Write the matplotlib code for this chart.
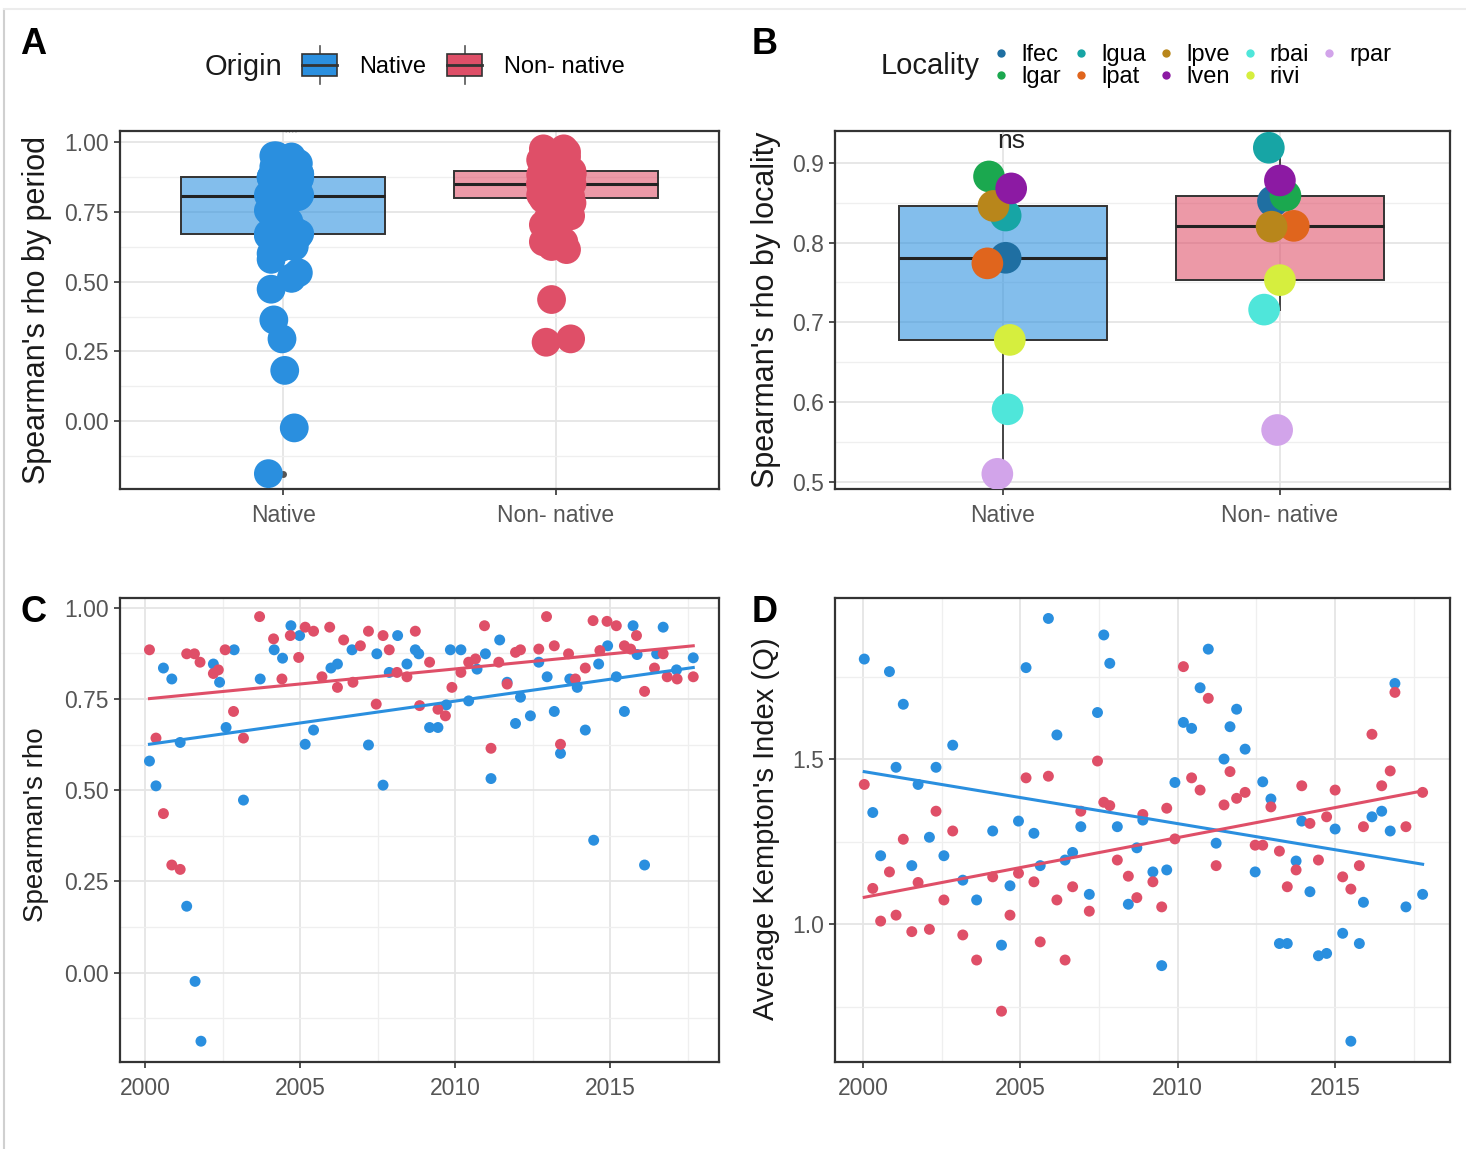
import numpy as np
import matplotlib
matplotlib.use('Agg')
import matplotlib.pyplot as plt
import matplotlib.ticker as ticker
from matplotlib.lines import Line2D
from matplotlib.patches import Rectangle, Patch
from matplotlib.legend_handler import HandlerBase
from matplotlib.colors import to_rgba

plt.rcParams['font.family'] = ['Liberation Sans', 'DejaVu Sans']

# ---- data: Spearman's rho by period (panel C, also jittered in panel A)
native_year = [2000.14, 2000.35, 2000.59, 2000.86, 2001.13, 2001.34, 2001.61, 2001.80,
               2002.20, 2002.40, 2002.61, 2002.87, 2003.17, 2003.71, 2004.16, 2004.43,
               2004.70, 2004.98, 2005.16, 2005.43, 2005.99, 2006.20, 2006.67, 2007.20,
               2007.47, 2007.67, 2007.87, 2008.14, 2008.44, 2008.71, 2008.82, 2009.17,
               2009.44, 2009.71, 2009.84, 2010.18, 2010.43, 2010.70, 2010.97, 2011.15,
               2011.43, 2011.67, 2011.94, 2012.10, 2012.42, 2012.69, 2012.96, 2013.19,
               2013.39, 2013.69, 2013.93, 2014.19, 2014.46, 2014.62, 2014.91, 2015.19,
               2015.45, 2015.73, 2015.86, 2016.10, 2016.49, 2016.70, 2017.13, 2017.67]
native_rho = [0.580, 0.512, 0.835, 0.805, 0.631, 0.182, -0.024, -0.188,
              0.846, 0.796, 0.672, 0.885, 0.473, 0.805, 0.885, 0.862,
              0.951, 0.924, 0.626, 0.665, 0.835, 0.846, 0.885, 0.624,
              0.874, 0.514, 0.823, 0.924, 0.846, 0.885, 0.874, 0.672,
              0.672, 0.734, 0.885, 0.885, 0.745, 0.832, 0.874, 0.532,
              0.912, 0.796, 0.683, 0.755, 0.704, 0.851, 0.811, 0.716,
              0.601, 0.805, 0.782, 0.665, 0.363, 0.846, 0.896, 0.811,
              0.716, 0.951, 0.872, 0.295, 0.874, 0.947, 0.830, 0.863]

nonnative_year = [2000.14, 2000.35, 2000.59, 2000.86, 2001.13, 2001.34, 2001.59, 2001.77,
                  2002.20, 2002.36, 2002.58, 2002.85, 2003.17, 2003.69, 2004.14, 2004.41,
                  2004.68, 2004.95, 2005.16, 2005.43, 2005.70, 2005.95, 2006.20, 2006.40,
                  2006.70, 2006.94, 2007.20, 2007.45, 2007.67, 2007.87, 2008.12, 2008.44,
                  2008.71, 2008.85, 2009.17, 2009.44, 2009.68, 2009.89, 2010.18, 2010.43,
                  2010.65, 2010.94, 2011.15, 2011.40, 2011.67, 2011.94, 2012.10, 2012.69,
                  2012.94, 2013.19, 2013.39, 2013.65, 2013.87, 2014.19, 2014.44, 2014.66,
                  2014.89, 2015.19, 2015.45, 2015.65, 2015.84, 2016.10, 2016.42, 2016.70,
                  2016.83, 2017.15, 2017.67]
nonnative_rho = [0.885, 0.643, 0.436, 0.295, 0.283, 0.874, 0.874, 0.851,
                 0.820, 0.830, 0.885, 0.716, 0.643, 0.976, 0.915, 0.805,
                 0.924, 0.864, 0.947, 0.936, 0.811, 0.947, 0.782, 0.912,
                 0.796, 0.896, 0.936, 0.736, 0.924, 0.885, 0.823, 0.811,
                 0.936, 0.732, 0.851, 0.722, 0.704, 0.782, 0.823, 0.851,
                 0.860, 0.951, 0.615, 0.851, 0.791, 0.878, 0.885, 0.887,
                 0.976, 0.896, 0.626, 0.874, 0.805, 0.835, 0.965, 0.883,
                 0.963, 0.951, 0.896, 0.887, 0.924, 0.771, 0.835, 0.874,
                 0.811, 0.805, 0.811]

# ---- data: Average Kempton's index (panel D)
kq_year = [2000.04, 2000.31, 2000.56, 2000.84, 2001.05, 2001.28, 2001.55, 2001.75,
           2002.11, 2002.32, 2002.57, 2002.85, 2003.17, 2003.61, 2004.12, 2004.40,
           2004.67, 2004.94, 2005.18, 2005.43, 2005.63, 2005.89, 2006.16, 2006.42,
           2006.66, 2006.92, 2007.19, 2007.45, 2007.65, 2007.84, 2008.08, 2008.43,
           2008.70, 2008.89, 2009.21, 2009.49, 2009.65, 2009.91, 2010.18, 2010.44,
           2010.71, 2010.97, 2011.22, 2011.47, 2011.66, 2011.87, 2012.14, 2012.46,
           2012.70, 2012.96, 2013.23, 2013.48, 2013.76, 2013.94, 2014.20, 2014.47,
           2014.73, 2015.00, 2015.24, 2015.50, 2015.77, 2015.90, 2016.17, 2016.48,
           2016.75, 2016.90, 2017.25, 2017.78]
kq_native = [1.803, 1.338, 1.207, 1.765, 1.475, 1.666, 1.177, 1.423,
             1.263, 1.475, 1.207, 1.542, 1.133, 1.073, 1.282, 0.936,
             1.116, 1.312, 1.777, 1.275, 1.177, 1.926, 1.573, 1.194,
             1.217, 1.295, 1.090, 1.641, 1.876, 1.790, 1.295, 1.060,
             1.231, 1.315, 1.158, 0.874, 1.164, 1.429, 1.611, 1.593,
             1.716, 1.833, 1.245, 1.500, 1.598, 1.651, 1.530, 1.158,
             1.431, 1.379, 0.941, 0.941, 1.191, 1.312, 1.098, 0.904,
             0.911, 1.288, 0.972, 0.645, 0.941, 1.066, 1.325, 1.342,
             1.282, 1.729, 1.052, 1.090]
kq_nonnative = [1.423, 1.108, 1.009, 1.158, 1.027, 1.257, 0.977, 1.126,
                0.984, 1.342, 1.073, 1.282, 0.967, 0.891, 1.143, 0.736,
                1.027, 1.154, 1.443, 1.128, 0.946, 1.448, 1.073, 0.891,
                1.113, 1.342, 1.039, 1.494, 1.369, 1.359, 1.194, 1.145,
                1.080, 1.332, 1.128, 1.052, 1.351, 1.258, 1.780, 1.443,
                1.406, 1.684, 1.177, 1.361, 1.462, 1.381, 1.399, 1.239,
                1.239, 1.355, 1.221, 1.113, 1.164, 1.419, 1.305, 1.194,
                1.325, 1.406, 1.143, 1.106, 1.177, 1.295, 1.575, 1.419,
                1.464, 1.702, 1.295, 1.399]

# ---- data: Spearman's rho by locality (panel B)
localities = ['lfec', 'lgar', 'lgua', 'lpat', 'lpve', 'lven', 'rbai', 'rivi', 'rpar']
loc_native = [0.781, 0.883, 0.834, 0.774, 0.846, 0.868, 0.591, 0.678, 0.510]
loc_nonnative = [0.852, 0.859, 0.919, 0.821, 0.820, 0.878, 0.716, 0.753, 0.565]
loc_colors = ['#1f6fa2', '#1ba84f', '#17a5a5', '#e0651d', '#b8861b',
              '#8c1aa3', '#4fe6da', '#d6ee3e', '#d2a4ea']

origins = ['Native', 'Non- native']
origin_colors = ['#2a8fdf', '#df4f68']

# jitter offsets (horizontal only)
jit_pattern = [-0.045, 0.03, -0.015, 0.055, -0.035, 0.005, 0.04, -0.055, 0.02, -0.025, 0.06, -0.005]
loc_jit_native = [0.01, -0.05, 0.01, -0.056, -0.034, 0.03, 0.017, 0.025, -0.02]
loc_jit_non = [-0.025, 0.02, -0.04, 0.05, -0.03, 0.0, -0.057, 0.0, -0.01]

W, H = 1466, 1149
fig = plt.figure(figsize=(W / 100, H / 100), dpi=100)


def box(x0, y0, x1, y1):
    return [x0 / W, 1 - y1 / H, (x1 - x0) / W, (y1 - y0) / H]


def style(ax, ymaj, ymin, xmaj=None, xmin=None):
    for s in ax.spines.values():
        s.set_color('#333333')
        s.set_linewidth(1.6)
    ax.yaxis.set_major_locator(ticker.MultipleLocator(ymaj))
    ax.yaxis.set_minor_locator(ticker.MultipleLocator(ymin))
    if xmaj is not None:
        ax.xaxis.set_major_locator(ticker.MultipleLocator(xmaj))
        ax.xaxis.set_minor_locator(ticker.MultipleLocator(xmin))
    ax.grid(which='major', color='#e5e5e5', lw=1.3)
    ax.grid(which='minor', color='#efefef', lw=0.9)
    ax.set_axisbelow(True)
    ax.tick_params(which='major', length=4, width=1.2, color='#333333',
                   labelcolor='#555555', labelsize=16.5, pad=4)
    ax.tick_params(which='minor', length=0)
    ax.tick_params(axis='x', pad=7)


def boxes(ax, data):
    bp = ax.boxplot(data, positions=[1, 2], widths=0.75, patch_artist=True,
                    showcaps=False, zorder=2,
                    flierprops=dict(marker='o', markerfacecolor='#555555',
                                    markeredgecolor='none', markersize=5),
                    medianprops=dict(color='#222222', lw=2.2),
                    boxprops=dict(edgecolor='#333333', lw=1.4),
                    whiskerprops=dict(color='#444444', lw=1.4))
    for patch, c in zip(bp['boxes'], origin_colors):
        patch.set_facecolor(to_rgba(c, 0.58))


# ---- panel A
ax_a = fig.add_axes(box(120, 131, 719, 489))
style(ax_a, 0.25, 0.125)
boxes(ax_a, [native_rho, nonnative_rho])
ax_a.text(1.03, 1.0, '**', ha='center', va='bottom', fontsize=14, color='#333333',
          zorder=2, clip_on=True)
for i, (vals, c) in enumerate(zip([native_rho, nonnative_rho], origin_colors)):
    off = np.resize(jit_pattern, len(vals))
    ax_a.scatter(i + 1 + off, vals, s=430, color=c, edgecolors='none', zorder=3)
ax_a.set_xlim(0.4, 2.6)
ax_a.set_ylim(-0.243, 1.04)
ax_a.set_xticks([1, 2])
ax_a.set_xticklabels(origins)
ax_a.xaxis.set_minor_locator(ticker.NullLocator())
ax_a.yaxis.set_major_formatter(ticker.FormatStrFormatter('%.2f'))

# ---- panel B
ax_b = fig.add_axes(box(835, 131, 1450, 489))
style(ax_b, 0.1, 0.05)
boxes(ax_b, [loc_native, loc_nonnative])
for i in range(len(localities)):
    ax_b.scatter(1 + loc_jit_native[i], loc_native[i], s=520, color=loc_colors[i],
                 edgecolors='none', zorder=3)
    ax_b.scatter(2 + loc_jit_non[i], loc_nonnative[i], s=520, color=loc_colors[i],
                 edgecolors='none', zorder=3)
ax_b.text(1.03, 0.927, 'ns', ha='center', va='center', fontsize=19, color='#222222', zorder=4)
ax_b.set_xlim(0.394, 2.614)
ax_b.set_ylim(0.491, 0.94)
ax_b.set_xticks([1, 2])
ax_b.set_xticklabels(origins)
ax_b.xaxis.set_minor_locator(ticker.NullLocator())

# ---- panel C
ax_c = fig.add_axes(box(120, 598, 719, 1062))
style(ax_c, 0.25, 0.125, 5, 2.5)
for yr, vals, c in [(native_year, native_rho, origin_colors[0]),
                    (nonnative_year, nonnative_rho, origin_colors[1])]:
    ax_c.scatter(yr, vals, s=62, color=c, edgecolors='none', zorder=3)
for yr, vals, c in [(native_year, native_rho, origin_colors[0]),
                    (nonnative_year, nonnative_rho, origin_colors[1])]:
    k, b = np.polyfit(yr, vals, 1)
    xs = np.array([min(yr), max(yr)])
    ax_c.plot(xs, k * xs + b, color=c, lw=2.2, zorder=4)
ax_c.set_xlim(1999.19, 2018.5)
ax_c.set_ylim(-0.245, 1.027)
ax_c.yaxis.set_major_formatter(ticker.FormatStrFormatter('%.2f'))
ax_c.xaxis.set_major_formatter(ticker.FormatStrFormatter('%d'))

# ---- panel D
ax_d = fig.add_axes(box(835, 598, 1450, 1062))
style(ax_d, 0.5, 0.25, 5, 2.5)
for vals, c in [(kq_native, origin_colors[0]), (kq_nonnative, origin_colors[1])]:
    ax_d.scatter(kq_year, vals, s=62, color=c, edgecolors='none', zorder=3)
for vals, c in [(kq_native, origin_colors[0]), (kq_nonnative, origin_colors[1])]:
    k, b = np.polyfit(kq_year, vals, 1)
    xs = np.array([min(kq_year), max(kq_year)])
    ax_d.plot(xs, k * xs + b, color=c, lw=2.2, zorder=4)
ax_d.set_xlim(1999.11, 2018.65)
ax_d.set_ylim(0.582, 1.988)
ax_d.yaxis.set_major_formatter(ticker.FormatStrFormatter('%.1f'))
ax_d.xaxis.set_major_formatter(ticker.FormatStrFormatter('%d'))

# ---- axis titles
fig.text(37 / W, 1 - 310 / H, "Spearman's rho by period", rotation=90,
         ha='center', va='center', fontsize=22, color='#1a1a1a')
fig.text(766 / W, 1 - 310 / H, "Spearman's rho by locality", rotation=90,
         ha='center', va='center', fontsize=22, color='#1a1a1a')
fig.text(36 / W, 1 - 825 / H, "Spearman's rho", rotation=90,
         ha='center', va='center', fontsize=20, color='#1a1a1a')
fig.text(766 / W, 1 - 829 / H, "Average Kempton's Index (Q)", rotation=90,
         ha='center', va='center', fontsize=21, color='#1a1a1a')

# ---- panel letters
for lab, x, y in [('A', 33, 44), ('B', 765, 44), ('C', 33, 612), ('D', 765, 612)]:
    fig.text(x / W, 1 - y / H, lab, ha='center', va='center', fontsize=26,
             fontweight='bold', color='black')


# ---- legends
class BoxHandler(HandlerBase):
    def create_artists(self, legend, orig_handle, xdescent, ydescent, width, height,
                       fontsize, trans):
        x0, y0 = -xdescent, -ydescent
        xc = x0 + width / 2
        whisk = Line2D([xc, xc], [y0 - 0.35 * height, y0 + 1.35 * height],
                       color='#555555', lw=1.2, transform=trans)
        rect = Rectangle((x0, y0), width, height, facecolor=orig_handle.get_facecolor(),
                         edgecolor='#333333', lw=1.2, transform=trans)
        med = Line2D([x0, x0 + width], [y0 + height / 2] * 2, color='#333333', lw=2,
                     transform=trans)
        return [whisk, rect, med]


origin_handles = [Patch(facecolor=c) for c in origin_colors]
fig.legend(origin_handles, origins, handler_map={Patch: BoxHandler()},
           loc='center left', bbox_to_anchor=(302 / W, 1 - 66 / H), ncol=2,
           frameon=False, fontsize=17, handlelength=1.5, handleheight=1.05,
           handletextpad=0.9, columnspacing=0.9, borderpad=0, borderaxespad=0)
fig.text(244 / W, 1 - 67 / H, 'Origin', ha='center', va='center', fontsize=21,
         color='#1a1a1a')

loc_handles = [Line2D([], [], ls='', marker='o', markersize=6, color=c,
                      markeredgecolor='none') for c in loc_colors]
fig.legend(loc_handles, localities, loc='center left',
           bbox_to_anchor=(993 / W, 1 - 66 / H), ncol=5, frameon=False, fontsize=17,
           handlelength=0.7, handletextpad=0.5, columnspacing=0.5, labelspacing=0.0,
           borderpad=0, borderaxespad=0)
fig.text(930 / W, 1 - 66 / H, 'Locality', ha='center', va='center', fontsize=21,
         color='#1a1a1a')

# thin frame of the screenshot
fig.add_artist(Line2D([4 / W, 4 / W], [0, 1 - 10 / H], color='#d0d0d0', lw=1.5,
                      transform=fig.transFigure))
fig.add_artist(Line2D([4 / W, 1], [1 - 9 / H, 1 - 9 / H], color='#ececec', lw=1.5,
                      transform=fig.transFigure))

fig.savefig('out.png', dpi=100)
